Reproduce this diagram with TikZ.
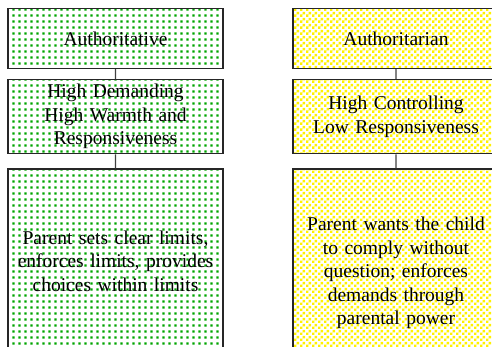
\documentclass[tikz,border=0pt]{standalone}
\usepackage{fontspec}
\setmainfont{Liberation Serif}
\usetikzlibrary{patterns}

\definecolor{dotgreen}{RGB}{0,165,0}
\definecolor{checkyellow}{RGB}{255,242,0}

\pgfdeclarepatternformonly{greendots}{\pgfpointorigin}{\pgfqpoint{3.3pt}{3.3pt}}{\pgfqpoint{3.3pt}{3.3pt}}{
  \pgfpathrectangle{\pgfqpoint{0.9pt}{0.9pt}}{\pgfqpoint{1.5pt}{1.5pt}}
  \pgfusepath{fill}}
\pgfdeclarepatternformonly{yellowcheck}{\pgfpointorigin}{\pgfqpoint{3.6pt}{3.6pt}}{\pgfqpoint{3.6pt}{3.6pt}}{
  \pgfpathrectangle{\pgfqpoint{0.07pt}{0.07pt}}{\pgfqpoint{1.66pt}{1.66pt}}
  \pgfpathrectangle{\pgfqpoint{1.87pt}{1.87pt}}{\pgfqpoint{1.66pt}{1.66pt}}
  \pgfusepath{fill}}

\begin{document}
\begin{tikzpicture}[
    x=0.6pt, y=-0.6pt,
    font=\fontsize{11.7}{14.1}\selectfont,
    edge from parent/.style={draw, black!75, line width=0.7pt},
    greenbox/.style={rectangle, draw=black!85, line width=0.7pt, pattern=greendots,
        pattern color=dotgreen, inner sep=0pt, text width=129pt, align=center, anchor=north},
    yellowbox/.style={rectangle, draw=black!85, line width=0.7pt, pattern=yellowcheck,
        pattern color=checkyellow, inner sep=0pt, text width=123.6pt, align=center, anchor=north},
    level 1/.style={level distance=6pt},
    level 2/.style={level distance=8.4pt},
    growth parent anchor=south
]
\useasboundingbox (0,0) rectangle (492,346);

\node (Authoritative) [greenbox, minimum height=36pt] at (115.5,8) {Authoritative}
  child {
    node (HighDemanding) [greenbox, minimum height=44.4pt]
      {High Demanding\\High Warmth and\\Responsiveness}
    child {
      node (ClearLimits) [greenbox, minimum height=110.4pt]
        {Parent sets clear limits,\\enforces limits, provides\\choices within limits}
    }
  }
;

\node (Authoritarian) [yellowbox, minimum height=36pt] at (396,8) {Authoritarian}
  child {
    node (HighControlling) [yellowbox, minimum height=44.4pt]
      {High Controlling\\Low Responsiveness}
    child {
      node (Comply) [yellowbox, minimum height=124.8pt]
        {Parent wants the child\\to comply without\\question; enforces\\demands through\\parental power}
    }
  }
;

\end{tikzpicture}
\end{document}
